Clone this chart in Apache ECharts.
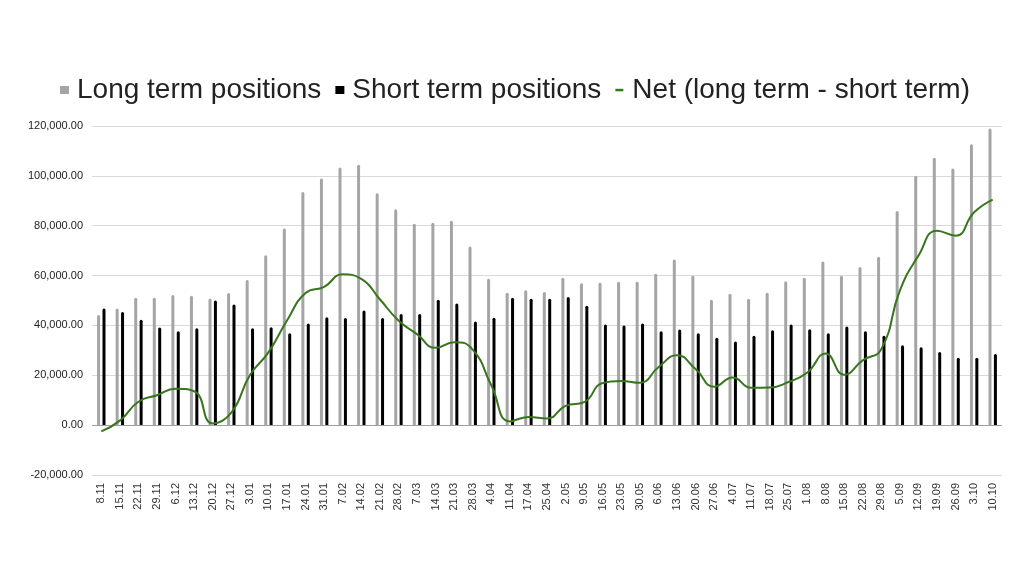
<!DOCTYPE html>
<html>
<head>
<meta charset="utf-8">
<script src="https://cdn.jsdelivr.net/npm/echarts@6/dist/echarts.min.js"></script>
<style>html,body{margin:0;padding:0;background:#fff;}#c{width:1030px;height:580px;}</style>
</head>
<body>
<div id="c"></div>
<script>
const categories = ["8.11","15.11","22.11","29.11","6.12","13.12","20.12","27.12","3.01","10.01","17.01","24.01","31.01","7.02","14.02","21.02","28.02","7.03","14.03","21.03","28.03","4.04","11.04","17.04","25.04","2.05","9.05","16.05","23.05","30.05","6.06","13.06","20.06","27.06","4.07","11.07","18.07","25.07","1.08","8.08","15.08","22.08","29.08","5.09","12.09","19.09","26.09","3.10","10.10"];
const longTerm = [44150,46800,51100,51100,52200,51900,50800,53000,58200,68200,78900,93500,98900,103400,104500,93000,86600,80800,81200,82000,71700,58700,53100,54100,53400,59100,56900,57100,57500,57500,60700,66400,59900,50300,52700,50700,53100,57700,59100,65600,59900,63400,67600,85900,100000,107300,103000,112700,119000];
const shortTerm = [46800,45400,42300,39200,37700,38900,50000,48400,38900,39300,36900,40800,43300,43000,46000,43000,44600,44600,50300,48800,41600,43100,51100,50700,50700,51400,47900,40400,40000,40800,37700,38400,36900,35100,33600,35900,38100,40400,38500,36900,39600,37700,35900,32000,31200,29300,27000,27000,28500];
const netPositions = [-2500,1800,9400,12000,14600,13600,700,5000,20000,29200,42000,53000,55500,60500,58700,50500,42000,36500,31000,33300,30300,16000,1500,3300,2700,7700,9200,16900,17700,17000,23200,28000,22500,15400,19100,15000,15100,17300,21000,28700,20200,26000,30500,54000,68000,78000,76000,85400,90500];
const yTicks = {min: -20000, max: 120000, interval: 20000};

const chart = echarts.init(document.getElementById('c'), null, {renderer: 'canvas'});
const fmt = v => v.toLocaleString('en-US', {minimumFractionDigits: 2, maximumFractionDigits: 2});
chart.setOption({
  animation: false,
  backgroundColor: '#fff',
  textStyle: {fontFamily: 'Liberation Sans, Arial, sans-serif'},
  legend: {
    top: 71,
    left: 'center',
    itemGap: 14,
    textStyle: {fontSize: 28, color: '#222', fontFamily: 'Liberation Sans, Arial, sans-serif', padding: [0, 0, 0, 3]},
    data: [
      {name: 'Long term positions', icon: 'rect', itemStyle: {color: '#a5a5a5'}},
      {name: 'Short term positions', icon: 'rect', itemStyle: {color: '#000'}},
      {name: 'Net (long term - short term)', icon: 'path://M0,0 M9,8 M0,2.8 L8,2.8 L8,5.3 L0,5.3 Z', itemStyle: {color: '#38761d'}}
    ],
    itemWidth: 9,
    itemHeight: 8
  },
  grid: {left: 92, right: 28, top: 126, bottom: 105, containLabel: false},
  xAxis: {
    type: 'category',
    data: categories,
    axisLine: {show: false, onZero: false},
    axisTick: {show: false},
    axisLabel: {rotate: 90, fontSize: 11, color: '#333', interval: 0, margin: 8}
  },
  yAxis: {
    type: 'value',
    min: yTicks.min, max: yTicks.max, interval: yTicks.interval,
    axisLine: {show: false},
    axisTick: {show: false},
    splitLine: {lineStyle: {color: '#d9d9d9', width: 1}},
    axisLabel: {fontSize: 11, color: '#222', margin: 9, formatter: fmt}
  },
  series: [
    {
      name: 'Long term positions', type: 'bar', data: longTerm,
      barWidth: 3, barGap: '80%',
      itemStyle: {color: '#a5a5a5', borderRadius: [1.5,1.5,0,0]},
      markLine: {silent: true, symbol: 'none', label: {show: false},
        lineStyle: {color: '#9e9e9e', width: 1, type: 'solid'}, data: [{yAxis: 0}]}
    },
    {
      name: 'Short term positions', type: 'bar', data: shortTerm,
      barWidth: 3,
      itemStyle: {color: '#000', borderRadius: [1.5,1.5,0,0]}
    },
    {
      name: 'Net (long term - short term)', type: 'line', data: netPositions,
      smooth: 0.5, showSymbol: false, symbol: 'none',
      lineStyle: {color: '#38761d', width: 2},
      itemStyle: {color: '#38761d'}, z: 5
    }
  ]
});
</script>
</body>
</html>
